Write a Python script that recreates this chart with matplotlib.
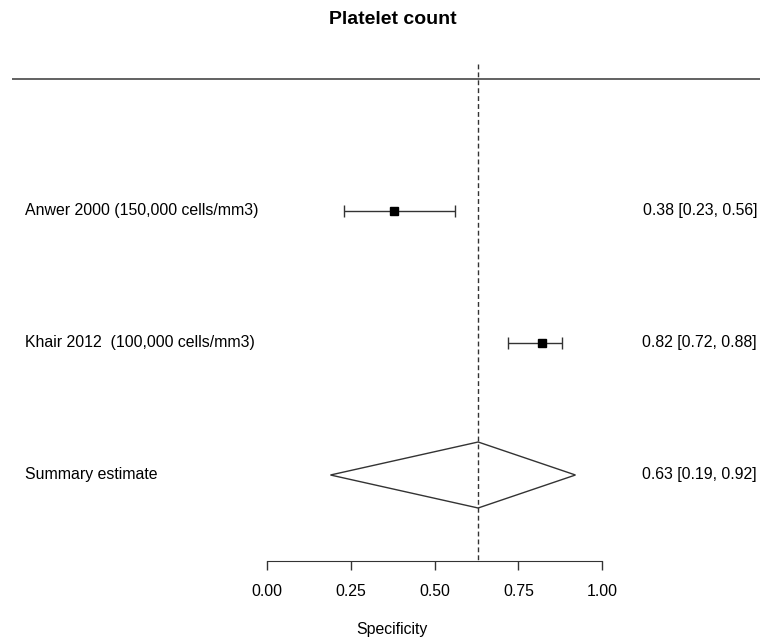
import matplotlib.pyplot as plt
from matplotlib.patches import Polygon

plt.rcParams['font.family'] = ['Liberation Sans', 'DejaVu Sans']

# study rows (top to bottom)
studies = ["Anwer 2000 (150,000 cells/mm3)", "Khair 2012  (100,000 cells/mm3)"]
est = [0.38, 0.82]
lo = [0.23, 0.72]
hi = [0.56, 0.88]

summary_label = "Summary estimate"
summary_est = 0.63
summary_lo = 0.19
summary_hi = 0.92

xticks = [0.0, 0.25, 0.5, 0.75, 1.0]

fig = plt.figure(figsize=(7.6, 6.4), dpi=100)
ax = fig.add_axes([0, 0, 1, 1])

# map data x 0..1 to pixels 266.7..602.3, rows spaced 132 px
px_per_unit = 335.6
x0_px = 266.7
ax.set_xlim(-x0_px / px_per_unit, (760 - x0_px) / px_per_unit)
ax.set_ylim(1 + 429 / 132, 1 - 211 / 132)

rows = list(range(1, len(studies) + 2))
axis_y = 3.65
fs = 11.4

# top separator line
ax.plot([(12 - x0_px) / px_per_unit, 2], [0, 0], color='#555555', lw=1.3,
        solid_capstyle='butt')

# reference line at summary estimate
ax.plot([summary_est, summary_est], [-0.115, axis_y], color='#333333', lw=1,
        linestyle=(0, (3.5, 2.2)))

for i, r in enumerate(rows[:-1]):
    ax.errorbar(est[i], r, xerr=[[est[i] - lo[i]], [hi[i] - est[i]]],
                fmt='s', color='black', ecolor='#333333', markersize=5.6,
                elinewidth=1, capsize=4, capthick=1)

r = rows[-1]
diamond = Polygon([(summary_lo, r), (summary_est, r - 0.25),
                   (summary_hi, r), (summary_est, r + 0.25)],
                  closed=True, facecolor='white', edgecolor='#333333', lw=1)
ax.add_patch(diamond)

labels = studies + [summary_label]
ests = est + [summary_est]
los = lo + [summary_lo]
his = hi + [summary_hi]
left_x = (25 - x0_px) / px_per_unit
right_x = (757 - x0_px) / px_per_unit
for r, lab, e, l, h in zip(rows, labels, ests, los, his):
    ax.text(left_x, r, lab, ha='left', va='center', fontsize=fs)
    ax.text(right_x, r, f"{e:.2f} [{l:.2f}, {h:.2f}]", ha='right',
            va='center', fontsize=fs)

# bottom axis
for s in ['top', 'left', 'right']:
    ax.spines[s].set_visible(False)
ax.spines['bottom'].set_position(('data', axis_y))
ax.spines['bottom'].set_bounds(0, 1)
ax.spines['bottom'].set_color('#333333')
ax.set_xticks(xticks)
ax.set_xticklabels([f"{t:.2f}" for t in xticks], fontsize=fs)
ax.tick_params(axis='x', direction='out', length=6.5, width=1,
               color='#333333', pad=10.5)
ax.set_yticks([])
ax.patch.set_visible(False)

ax.text((392 - x0_px) / px_per_unit, 4.17, "Specificity", ha='center',
        va='center', fontsize=fs)

fig.text(393 / 760, 1 - 20 / 640, "Platelet count", ha='center', va='center',
         fontsize=14, fontweight='bold')

fig.savefig("out.png", dpi=100)
